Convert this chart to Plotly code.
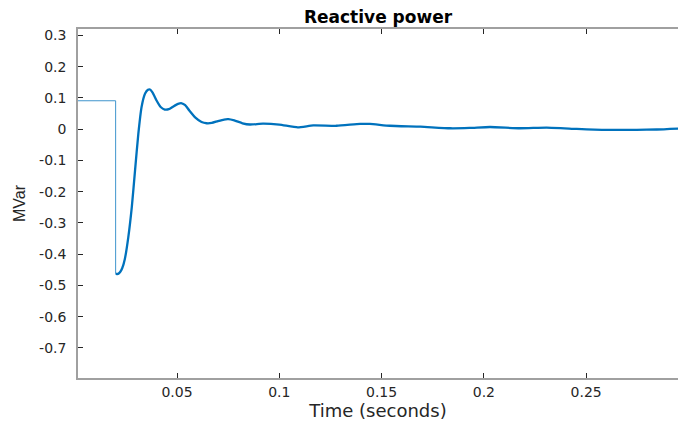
import plotly.graph_objects as go

# Pre-fault constant level and the step at the fault instant
t_step = [0.0, 0.0200, 0.0200]
q_step = [0.091, 0.091, -0.462]

# Transient response after the step
t_resp = [0.0200, 0.0212, 0.0222, 0.0232, 0.0245, 0.0262, 0.0279, 0.0295, 0.0311,
          0.0327, 0.0344, 0.0358, 0.0368, 0.0380, 0.0400, 0.0420, 0.0440, 0.0460,
          0.0480, 0.0505, 0.0523, 0.0540, 0.0560, 0.0590, 0.0620, 0.0645, 0.0670,
          0.0700, 0.0730, 0.0751, 0.0780, 0.0820, 0.0857, 0.0920, 0.1000, 0.1090,
          0.1166, 0.1280, 0.1395, 0.1443, 0.1540, 0.1690, 0.1835, 0.1930, 0.2030,
          0.2176, 0.2307, 0.2454, 0.2584, 0.2747, 0.2845, 0.2950]
q_resp = [-0.463, -0.463, -0.457, -0.445, -0.415, -0.345, -0.249, -0.131, -0.014,
          0.072, 0.114, 0.126, 0.127, 0.118, 0.092, 0.071, 0.063, 0.064,
          0.072, 0.081, 0.083, 0.077, 0.060, 0.037, 0.023, 0.019, 0.020,
          0.026, 0.031, 0.032, 0.028, 0.019, 0.015, 0.018, 0.015, 0.006,
          0.012, 0.011, 0.017, 0.017, 0.011, 0.008, 0.003, 0.004, 0.007,
          0.003, 0.005, 0.001, -0.002, -0.002, -0.001, 0.002]

x_ticks = [0.05, 0.1, 0.15, 0.2, 0.25]
x_labels = ["0.05", "0.1", "0.15", "0.2", "0.25"]
y_ticks = [-0.7, -0.6, -0.5, -0.4, -0.3, -0.2, -0.1, 0.0, 0.1, 0.2, 0.3]
y_labels = ["-0.7", "-0.6", "-0.5", "-0.4", "-0.3", "-0.2", "-0.1", "0", "0.1", "0.2", "0.3"]

BLUE = "#0072BD"
FONT = "DejaVu Sans, Liberation Sans, sans-serif"
FONT_Y = "Liberation Sans, Arial, sans-serif"

fig = go.Figure()
fig.add_trace(go.Scatter(x=t_step, y=q_step, mode="lines",
                         line=dict(color=BLUE, width=1), opacity=0.75,
                         showlegend=False, hoverinfo="skip"))
fig.add_trace(go.Scatter(x=t_resp, y=q_resp, mode="lines",
                         line=dict(color=BLUE, width=2.3, shape="spline", smoothing=0.5),
                         showlegend=False))

fig.update_layout(
    width=678, height=421,
    margin=dict(l=78, r=0, t=29, b=43, autoexpand=False),
    paper_bgcolor="white", plot_bgcolor="white",
    font=dict(family=FONT, size=14, color="#262626"),
    title=dict(text="<b>Reactive power</b>", x=0.5, xanchor="center",
               xref="paper", y=(421 - 17.5) / 421, yref="container", yanchor="middle",
               font=dict(family=FONT, size=17, color="#000000")),
    xaxis=dict(range=[0.0016, 0.2949], tickvals=x_ticks, ticktext=x_labels,
               automargin=False,
               showgrid=False, zeroline=False, showline=True, linecolor="#a0a0a0",
               linewidth=1.5, mirror="ticks", ticks="inside", ticklen=5,
               tickcolor="#262626", tickwidth=1, ticklabelstandoff=0,
               title=dict(text="Time (seconds)", standoff=14,
                          font=dict(family=FONT, size=18, color="#262626")),
               tickfont=dict(family=FONT, size=14, color="#262626")),
    yaxis=dict(range=[-0.796, 0.3206], tickvals=y_ticks, ticktext=y_labels,
               automargin=False,
               showgrid=False, zeroline=False, showline=True, linecolor="#a0a0a0",
               linewidth=1.5, mirror=False, ticks="inside", ticklen=5,
               tickcolor="#262626", tickwidth=1, ticklabelstandoff=7,
               title=dict(text="MVar", standoff=10,
                          font=dict(family=FONT_Y, size=16, color="#262626")),
               tickfont=dict(family=FONT, size=14, color="#262626")),
)

fig.write_html(
    "out.html",
    config={"displayModeBar": False},
    post_script="document.body.style.margin='0';document.body.style.overflow='hidden';",
)
